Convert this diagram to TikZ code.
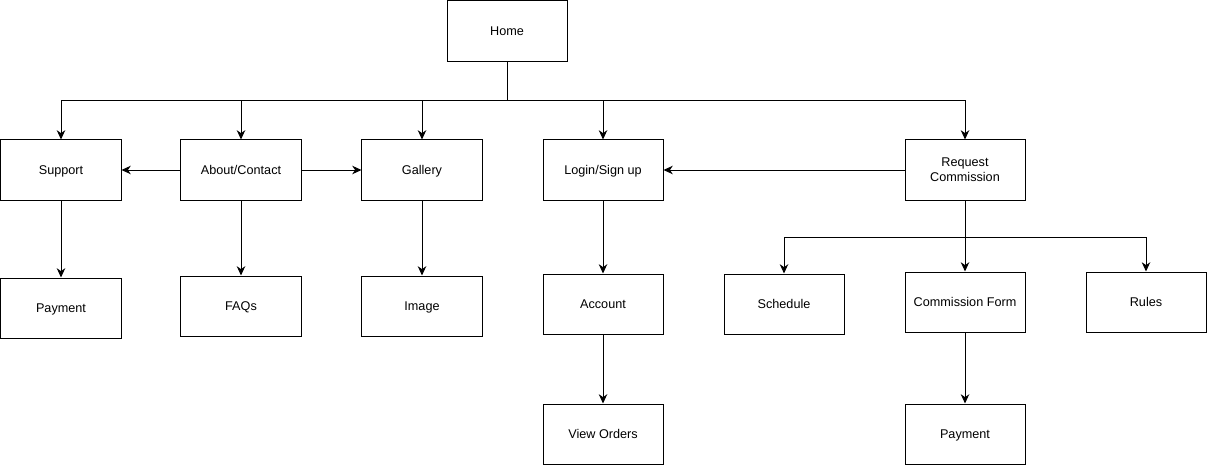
\documentclass[tikz,border=0pt]{standalone}
\usepackage{fontspec}
\setmainfont{Liberation Sans}
\usepackage{tikz}
\usetikzlibrary{arrows.meta,positioning}

\begin{document}
\begin{tikzpicture}[
  x=0.025cm, y=-0.025cm,
  page/.style={rectangle, draw, line width=0.7pt, align=center, font=\fontsize{9}{10.5}\selectfont, minimum width=3cm, minimum height=1.5cm, inner sep=2pt, text height=8pt, text depth=2pt},
  msg/.style={-{Stealth[length=2.3mm, width=2.1mm, inset=0.7mm]}, line width=0.7pt}
]
  \useasboundingbox (0,0) rectangle (1207,465);
  \def\ax{61} \def\bx{241} \def\cx{422} \def\dx{603} \def\ex{784} \def\fx{965} \def\gx{1146}

  \node[page] (home) at (507,31) {Home};
  \node[page] (support) at (\ax,170) {Support};
  \node[page] (about) at (\bx,170) {About/Contact};
  \node[page] (gallery) at (\cx,170) {Gallery};
  \node[page] (login) at (\dx,170) {Login/Sign up};
  \node[page, text height={}, text depth={}] (request) at (\fx,170) {Request\\Commission};

  \node[page] (payA) at (\ax,308) {Payment};
  \node[page] (faqs) at (\bx,306) {FAQs};
  \node[page] (image) at (\cx,306) {Image};
  \node[page] (account) at (\dx,304) {Account};
  \node[page] (schedule) at (\ex,304) {Schedule};
  \node[page] (form) at (\fx,302) {Commission Form};
  \node[page] (rules) at (\gx,302) {Rules};

  \node[page] (orders) at (\dx,434) {View Orders};
  \node[page] (payB) at (\fx,434) {Payment};

  \coordinate (hbus) at (507,100);
  \coordinate (rbus) at (\fx,237);

  % top level
  \draw[msg] (home.south) -- (hbus) -| (support.north);
  \draw[msg] (home.south) -- (hbus) -| (about.north);
  \draw[msg] (home.south) -- (hbus) -| (gallery.north);
  \draw[msg] (home.south) -- (hbus) -| (login.north);
  \draw[msg] (home.south) -- (hbus) -| (request.north);

  \draw[msg] (about) -- (support);
  \draw[msg] (about) -- (gallery);
  \draw[msg] (request) -- (login);

  \draw[msg] (support) -- (payA);
  \draw[msg] (about) -- (faqs);
  \draw[msg] (gallery) -- (image);
  \draw[msg] (login) -- (account);
  \draw[msg] (account) -- (orders);

  % commission branch
  \draw[msg] (request.south) -- (rbus) -| (schedule.north);
  \draw[msg] (request.south) -- (rbus) -- (form.north);
  \draw[msg] (request.south) -- (rbus) -| (rules.north);
  \draw[msg] (form) -- (payB);
\end{tikzpicture}
\end{document}
